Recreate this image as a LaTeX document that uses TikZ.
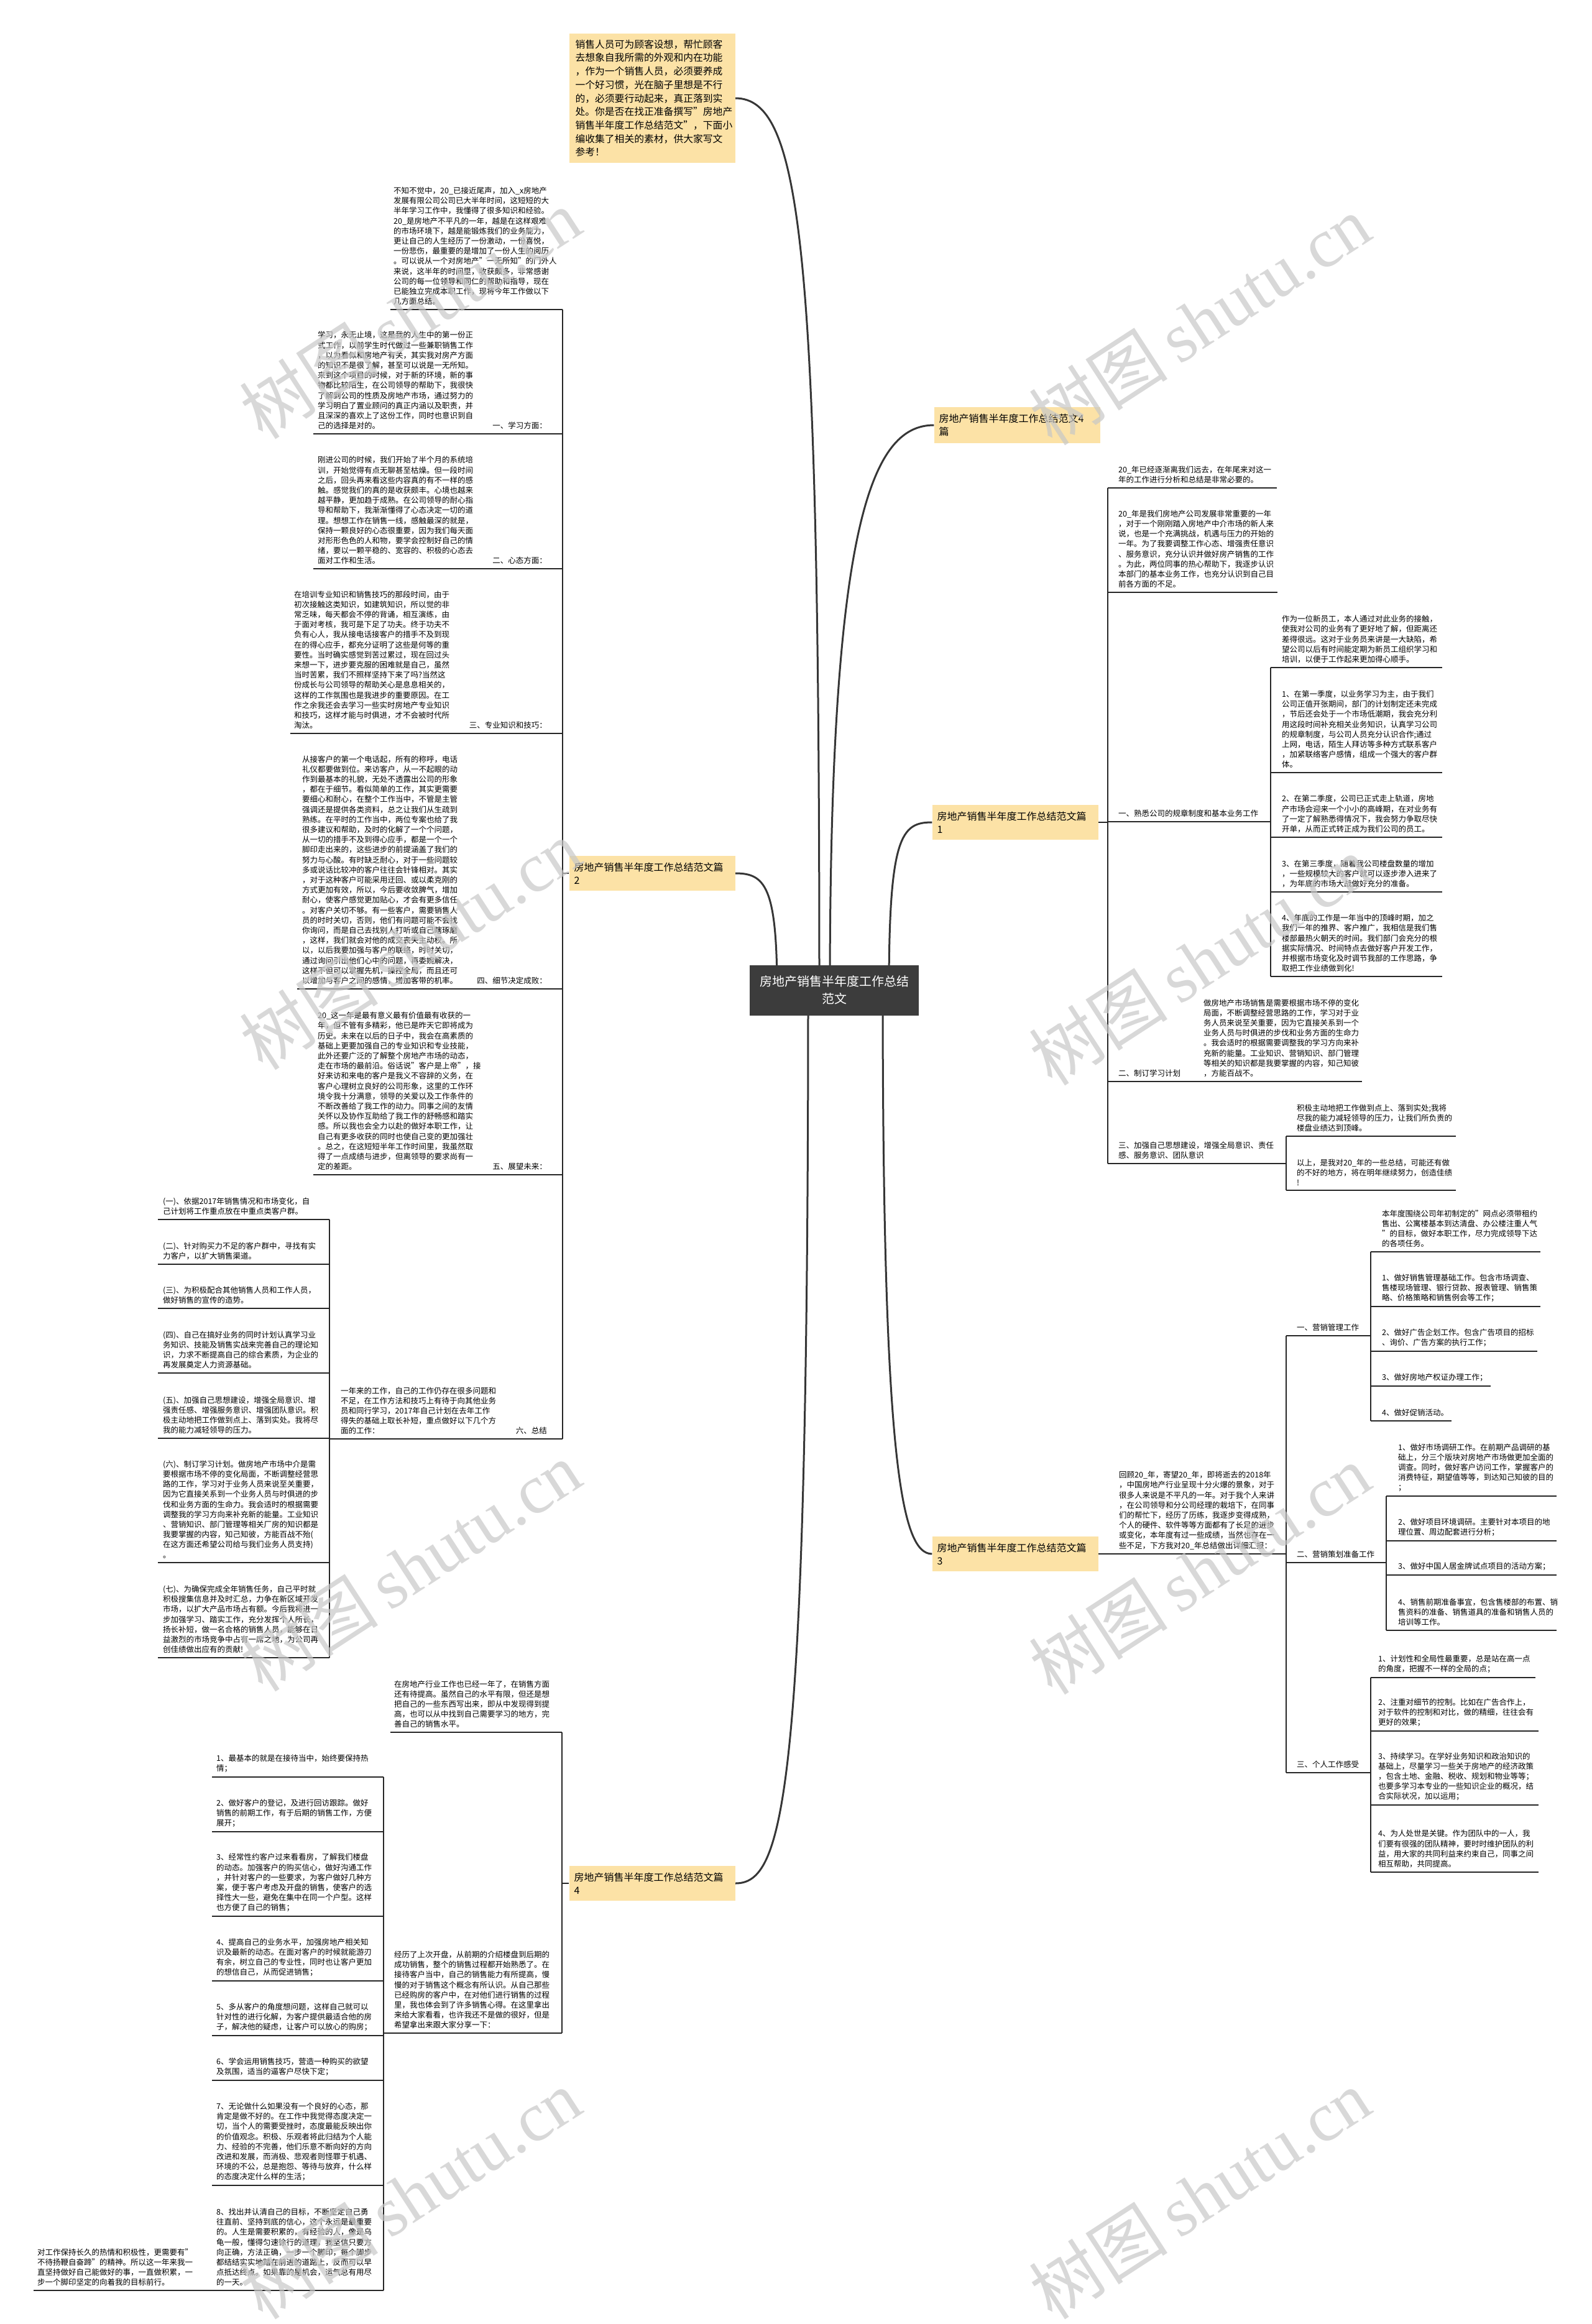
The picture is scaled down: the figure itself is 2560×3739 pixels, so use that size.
\documentclass[tikz,border=0pt]{standalone}
\usepackage{fontspec}
\setmainfont{Noto Sans CJK SC}
\newfontfamily\wmlatin{Liberation Serif}
\usetikzlibrary{calc,positioning,backgrounds}
\definecolor{topicfill}{HTML}{FCE2A6}
\definecolor{rootfill}{HTML}{3C3C3C}
\definecolor{linkgray}{HTML}{363636}
\tikzset{
  body/.style={font=\fontsize{12.5}{16.2}\selectfont,align=left,inner sep=0pt},
  txt/.style={body,anchor=south west},
  lbl/.style={body,anchor=south east},
  topic/.style={fill=topicfill,font=\fontsize{16}{21}\selectfont,align=left,
    text width=251pt,inner xsep=8pt,inner ysep=11pt},
  leadbox/.style={fill=topicfill,font=\fontsize{15.8}{21.7}\selectfont,align=left,
    text width=247pt,inner xsep=10pt,inner ysep=10pt},
  rootbox/.style={fill=rootfill,text=white,font=\fontsize{20}{28}\selectfont,
    align=center,minimum width=272pt,minimum height=81pt},
  uline/.style={line width=2pt,black!85},
  mainlink/.style={line width=3pt,linkgray},
  wmark/.style={font=\fontsize{112}{112}\selectfont,text=black!22,opacity=0.7,rotate=33}
}
\begin{document}
\begin{tikzpicture}[x=1pt,y=-1pt]
\useasboundingbox (0,0) rectangle (2560,3739);

% central topic and the yellow topics round it
\node[rootbox] (root) at (1342,1593) {房地产销售半年度工作总结\\范文};
\node[leadbox] (lead) at (1049,158) {销售人员可为顾客设想，帮忙顾客\\去想象自我所需的外观和内在功能\\，作为一个销售人员，必须要养成\\一个好习惯，光在脑子里想是不行\\的，必须要行动起来，真正落到实\\处。你是否在找正准备撰写"房地产\\销售半年度工作总结范文"，下面小\\编收集了相关的素材，供大家写文\\参考！};
\node[topic] (all4) at (1636,684) {房地产销售半年度工作总结范文4\\篇};
\node[topic] (art1) at (1633,1323) {房地产销售半年度工作总结范文篇\\1};
\node[topic] (art2) at (1049,1405) {房地产销售半年度工作总结范文篇\\2};
\node[topic] (art3) at (1633,2500) {房地产销售半年度工作总结范文篇\\3};
\node[topic] (art4) at (1049,3030) {房地产销售半年度工作总结范文篇\\4};

% curved links, behind the boxes
\begin{scope}[on background layer]
\draw[mainlink] ($(root.center)+(-24,0)$) .. controls (1318,400) and (1290,158) .. (lead.east);
\draw[mainlink] ($(root.center)+(-7,0)$) .. controls (1335,850) and (1400,684) .. (all4.west);
\draw[mainlink] ($(root.center)+(88,0)$) .. controls (1430,1345) and (1450,1323) .. (art1.west);
\draw[mainlink] ($(root.center)+(78,0)$) .. controls (1420,2350) and (1450,2500) .. (art3.west);
\draw[mainlink] ($(root.center)+(-92,0)$) .. controls (1250,1425) and (1230,1405) .. (art2.east);
\draw[mainlink] ($(root.center)+(-42,0)$) .. controls (1300,2900) and (1260,3030) .. (art4.east);
\end{scope}

% article 2 (left, upper)
\coordinate (s2) at (905,0);
\coordinate (u2a) at (628,498);
\node[txt] (p2a) at ($(u2a)+(5,-7)$) {不知不觉中，20\_已接近尾声，加入\_x房地产\\发展有限公司公司已大半年时间，这短短的大\\半年学习工作中，我懂得了很多知识和经验。\\20\_是房地产不平凡的一年，越是在这样艰难\\的市场环境下，越是能锻炼我们的业务能力，\\更让自己的人生经历了一份激动，一份喜悦，\\一份悲伤，最重要的是增加了一份人生的阅历\\。可以说从一个对房地产"一无所知"的门外人\\来说，这半年的时间里，收获颇多，非常感谢\\公司的每一位领导和同仁的帮助和指导，现在\\已能独立完成本职工作，现将今年工作做以下\\几方面总结。};
\draw[uline] (u2a) -- (u2a -| s2);

\coordinate (u2b) at (504,698);
\node[txt] (p2b) at ($(u2b)+(7,-7)$) {学习，永无止境，这是我的人生中的第一份正\\式工作，以前学生时代做过一些兼职销售工作\\，以为看似和房地产有关，其实我对房产方面\\的知识不是很了解，甚至可以说是一无所知。\\来到这个项目的时候，对于新的环境，新的事\\物都比较陌生，在公司领导的帮助下，我很快\\了解到公司的性质及房地产市场，通过努力的\\学习明白了置业顾问的真正内涵以及职责，并\\且深深的喜欢上了这份工作，同时也意识到自\\己的选择是对的。};
\node[lbl] (l2b) at ($(u2b -| s2)+(-25,-7)$) {一、学习方面：};
\draw[uline] (u2b) -- (u2b -| s2);

\coordinate (u2c) at (504,915);
\node[txt] (p2c) at ($(u2c)+(7,-7)$) {刚进公司的时候，我们开始了半个月的系统培\\训，开始觉得有点无聊甚至枯燥。但一段时间\\之后，回头再来看这些内容真的有不一样的感\\触。感觉我们的真的是收获颇丰。心境也越来\\越平静，更加趋于成熟。在公司领导的耐心指\\导和帮助下，我渐渐懂得了心态决定一切的道\\理。想想工作在销售一线，感触最深的就是，\\保持一颗良好的心态很重要，因为我们每天面\\对形形色色的人和物，要学会控制好自己的情\\绪，要以一颗平稳的、宽容的、积极的心态去\\面对工作和生活。};
\node[lbl] (l2c) at ($(u2c -| s2)+(-25,-7)$) {二、心态方面：};
\draw[uline] (u2c) -- (u2c -| s2);

\coordinate (u2d) at (467,1180);
\node[txt] (p2d) at ($(u2d)+(6,-7)$) {在培训专业知识和销售技巧的那段时间，由于\\初次接触这类知识，如建筑知识，所以觉的非\\常乏味，每天都会不停的背诵，相互演练，由\\于面对考核，我可是下足了功夫。终于功夫不\\负有心人，我从接电话接客户的措手不及到现\\在的得心应手，都充分证明了这些是何等的重\\要性。当时确实感觉到苦过累过，现在回过头\\来想一下，进步要克服的困难就是自己，虽然\\当时苦累，我们不照样坚持下来了吗?当然这\\份成长与公司领导的帮助关心是息息相关的，\\这样的工作氛围也是我进步的重要原因。在工\\作之余我还会去学习一些实时房地产专业知识\\和技巧，这样才能与时俱进，才不会被时代所\\淘汰。};
\node[lbl] (l2d) at ($(u2d -| s2)+(-25,-7)$) {三、专业知识和技巧：};
\draw[uline] (u2d) -- (u2d -| s2);

\coordinate (u2e) at (478,1591);
\node[txt] (p2e) at ($(u2e)+(8,-7)$) {从接客户的第一个电话起，所有的称呼，电话\\礼仪都要做到位。来访客户，从一不起眼的动\\作到最基本的礼貌，无处不透露出公司的形象\\，都在于细节。看似简单的工作，其实更需要\\要细心和耐心，在整个工作当中，不管是主管\\强调还是提供各类资料，总之让我们从生疏到\\熟练。在平时的工作当中，两位专案也给了我\\很多建议和帮助，及时的化解了一个个问题，\\从一切的措手不及到得心应手，都是一个一个\\脚印走出来的，这些进步的前提涵盖了我们的\\努力与心酸。有时缺乏耐心，对于一些问题较\\多或说话比较冲的客户往往会针锋相对。其实\\，对于这种客户可能采用迂回、或以柔克刚的\\方式更加有效，所以，今后要收敛脾气，增加\\耐心，使客户感觉更加贴心，才会有更多信任\\。对客户关切不够。有一些客户，需要销售人\\员的时时关切，否则，他们有问题可能不会找\\你询问，而是自己去找别人打听或自己瞎琢磨\\，这样，我们就会对他的成交丧失主动权。所\\以，以后我要加强与客户的联络，时时关切，\\通过询问引出他们心中的问题，再委婉解决，\\这样不但可以掌握先机，操控全局，而且还可\\以增加与客户之间的感情，增加客带的机率。};
\node[lbl] (l2e) at ($(u2e -| s2)+(-25,-7)$) {四、细节决定成败：};
\draw[uline] (u2e) -- (u2e -| s2);

\coordinate (u2f) at (504,1890);
\node[txt] (p2f) at ($(u2f)+(7,-7)$) {20\_这一年是最有意义最有价值最有收获的一\\年，但不管有多精彩，他已是昨天它即将成为\\历史。未来在以后的日子中，我会在高素质的\\基础上更要加强自己的专业知识和专业技能，\\此外还要广泛的了解整个房地产市场的动态，\\走在市场的最前沿。俗话说"客户是上帝"，接\\好来访和来电的客户是我义不容辞的义务，在\\客户心理树立良好的公司形象，这里的工作环\\境令我十分满意，领导的关爱以及工作条件的\\不断改善给了我工作的动力。同事之间的友情\\关怀以及协作互助给了我工作的舒畅感和踏实\\感。所以我也会全力以赴的做好本职工作，让\\自己有更多收获的同时也使自己变的更加强壮\\。总之，在这短短半年工作时间里，我虽然取\\得了一点成绩与进步，但离领导的要求尚有一\\定的差距。};
\node[lbl] (l2f) at ($(u2f -| s2)+(-25,-7)$) {五、展望未来：};
\draw[uline] (u2f) -- (u2f -| s2);

\coordinate (u2g) at (530,2315);
\node[txt] (p2g) at ($(u2g)+(18,-7)$) {一年来的工作，自己的工作仍存在很多问题和\\不足，在工作方法和技巧上有待于向其他业务\\员和同行学习，2017年自己计划在去年工作\\得失的基础上取长补短，重点做好以下几个方\\面的工作：};
\node[lbl] (l2g) at ($(u2g -| s2)+(-25,-7)$) {六、总结};
\draw[uline] (u2g) -- (u2g -| s2);
\draw[uline] (u2a -| s2) -- (u2g -| s2);
\draw[uline] (art2.west) -- (art2.west -| s2);

% the seven points under 六
\coordinate (s2g) at (530,0);
\coordinate (u2g1) at (254,1962);
\coordinate (u2g2) at (254,2034);
\coordinate (u2g3) at (254,2105);
\coordinate (u2g4) at (254,2209);
\coordinate (u2g5) at (254,2314);
\coordinate (u2g6) at (254,2514);
\coordinate (u2g7) at (254,2667);
\node[txt] (p2g1) at ($(u2g1)+(8,-7)$) {(一)、依据2017年销售情况和市场变化，自\\己计划将工作重点放在中重点类客户群。};
\node[txt] (p2g2) at ($(u2g2)+(8,-7)$) {(二)、针对购买力不足的客户群中，寻找有实\\力客户，以扩大销售渠道。};
\node[txt] (p2g3) at ($(u2g3)+(8,-7)$) {(三)、为积极配合其他销售人员和工作人员，\\做好销售的宣传的造势。};
\node[txt] (p2g4) at ($(u2g4)+(8,-7)$) {(四)、自己在搞好业务的同时计划认真学习业\\务知识、技能及销售实战来完善自己的理论知\\识，力求不断提高自己的综合素质，为企业的\\再发展奠定人力资源基础。};
\node[txt] (p2g5) at ($(u2g5)+(8,-7)$) {(五)、加强自己思想建设，增强全局意识、增\\强责任感、增强服务意识、增强团队意识。积\\极主动地把工作做到点上、落到实处。我将尽\\我的能力减轻领导的压力。};
\node[txt] (p2g6) at ($(u2g6)+(8,-7)$) {(六)、制订学习计划。做房地产市场中介是需\\要根据市场不停的变化局面，不断调整经营思\\路的工作，学习对于业务人员来说至关重要，\\因为它直接关系到一个业务人员与时俱进的步\\伐和业务方面的生命力。我会适时的根据需要\\调整我的学习方向来补充新的能量。工业知识\\、营销知识、部门管理等相关厂房的知识都是\\我要掌握的内容，知己知彼，方能百战不殆(\\在这方面还希望公司给与我们业务人员支持)\\。};
\node[txt] (p2g7) at ($(u2g7)+(8,-7)$) {(七)、为确保完成全年销售任务，自己平时就\\积极搜集信息并及时汇总，力争在新区域开发\\市场，以扩大产品市场占有额。今后我将进一\\步加强学习、踏实工作，充分发挥个人所长，\\扬长补短，做一名合格的销售人员，能够在日\\益激烈的市场竞争中占有一席之地，为公司再\\创佳绩做出应有的贡献!};
\draw[uline] (u2g1) -- (u2g1 -| s2g);
\draw[uline] (u2g2) -- (u2g2 -| s2g);
\draw[uline] (u2g3) -- (u2g3 -| s2g);
\draw[uline] (u2g4) -- (u2g4 -| s2g);
\draw[uline] (u2g5) -- (u2g5 -| s2g);
\draw[uline] (u2g6) -- (u2g6 -| s2g);
\draw[uline] (u2g7) -- (u2g7 -| s2g);
\draw[uline] (u2g1 -| s2g) -- (u2g7 -| s2g);

% article 4 (left, lower)
\coordinate (s4) at (904,0);
\coordinate (u4a) at (628,2787);
\node[txt] (p4a) at ($(u4a)+(6,-7)$) {在房地产行业工作也已经一年了，在销售方面\\还有待提高。虽然自己的水平有限，但还是想\\把自己的一些东西写出来，即从中发现得到提\\高，也可以从中找到自己需要学习的地方，完\\善自己的销售水平。};
\draw[uline] (u4a) -- (u4a -| s4);
\coordinate (u4b) at (617,3271);
\node[txt] (p4b) at ($(u4b)+(17,-7)$) {经历了上次开盘，从前期的介绍楼盘到后期的\\成功销售，整个的销售过程都开始熟悉了。在\\接待客户当中，自己的销售能力有所提高，慢\\慢的对于销售这个概念有所认识。从自己那些\\已经购房的客户中，在对他们进行销售的过程\\里，我也体会到了许多销售心得。在这里拿出\\来给大家看看，也许我还不是做的很好，但是\\希望拿出来跟大家分享一下：};
\draw[uline] (u4b) -- (u4b -| s4);
\draw[uline] (u4a -| s4) -- (u4b -| s4);
\draw[uline] (art4.west) -- (art4.west -| s4);

% the eight points of article 4
\coordinate (s4b) at (617,0);
\coordinate (u4b1) at (341,2859);
\coordinate (u4b2) at (341,2947);
\coordinate (u4b3) at (341,3083);
\coordinate (u4b4) at (341,3187);
\coordinate (u4b5) at (341,3275);
\coordinate (u4b6) at (341,3347);
\coordinate (u4b7) at (341,3516);
\coordinate (u4b8) at (341,3685);
\node[txt] (p4b1) at ($(u4b1)+(7,-7)$) {1、最基本的就是在接待当中，始终要保持热\\情；};
\node[txt] (p4b2) at ($(u4b2)+(7,-7)$) {2、做好客户的登记，及进行回访跟踪。做好\\销售的前期工作，有于后期的销售工作，方便\\展开；};
\node[txt] (p4b3) at ($(u4b3)+(7,-7)$) {3、经常性约客户过来看看房，了解我们楼盘\\的动态。加强客户的购买信心，做好沟通工作\\，并针对客户的一些要求，为客户做好几种方\\案，便于客户考虑及开盘的销售，使客户的选\\择性大一些，避免在集中在同一个户型。这样\\也方便了自己的销售；};
\node[txt] (p4b4) at ($(u4b4)+(7,-7)$) {4、提高自己的业务水平，加强房地产相关知\\识及最新的动态。在面对客户的时候就能游刃\\有余，树立自己的专业性，同时也让客户更加\\的想信自己，从而促进销售；};
\node[txt] (p4b5) at ($(u4b5)+(7,-7)$) {5、多从客户的角度想问题，这样自己就可以\\针对性的进行化解，为客户提供最适合他的房\\子，解决他的疑虑，让客户可以放心的购房；};
\node[txt] (p4b6) at ($(u4b6)+(7,-7)$) {6、学会运用销售技巧，营造一种购买的欲望\\及氛围，适当的逼客户尽快下定；};
\node[txt] (p4b7) at ($(u4b7)+(7,-7)$) {7、无论做什么如果没有一个良好的心态，那\\肯定是做不好的。在工作中我觉得态度决定一\\切，当个人的需要受挫时，态度最能反映出你\\的价值观念。积极、乐观者将此归结为个人能\\力、经验的不完善，他们乐意不断向好的方向\\改进和发展，而消极、悲观者则怪罪于机遇、\\环境的不公，总是抱怨、等待与放弃，什么样\\的态度决定什么样的生活；};
\node[txt] (p4b8) at ($(u4b8)+(7,-7)$) {8、找出并认清自己的目标，不断坚定自己勇\\往直前、坚持到底的信心，这个永远是最重要\\的。人生是需要积累的，有经验的人，像是乌\\龟一般，懂得匀速徐行的道理，我坚信只要方\\向正确，方法正确，一步一个脚印，每个脚步\\都结结实实地踏在前进的道路上，反而可以早\\点抵达终点。如果靠的是机会，运气总有用尽\\的一天。};
\draw[uline] (u4b1) -- (u4b1 -| s4b);
\draw[uline] (u4b2) -- (u4b2 -| s4b);
\draw[uline] (u4b3) -- (u4b3 -| s4b);
\draw[uline] (u4b4) -- (u4b4 -| s4b);
\draw[uline] (u4b5) -- (u4b5 -| s4b);
\draw[uline] (u4b6) -- (u4b6 -| s4b);
\draw[uline] (u4b7) -- (u4b7 -| s4b);
\draw[uline] (u4b8) -- (u4b8 -| s4b);
\draw[uline] (u4b1 -| s4b) -- (u4b8 -| s4b);
\coordinate (u4c) at (54,3685);
\node[txt] (p4c) at ($(u4c)+(6,-7)$) {对工作保持长久的热情和积极性，更需要有"\\不待扬鞭自奋蹄"的精神。所以这一年来我一\\直坚持做好自己能做好的事，一直做积累，一\\步一个脚印坚定的向着我的目标前行。};
\draw[uline] (u4c) -- (u4b8);

% article 1 (right, upper)
\coordinate (s1) at (1782,0);
\coordinate (u1a) at (1782,785);
\node[txt] (p1a) at ($(u1a)+(17,-7)$) {20\_年已经逐渐离我们远去，在年尾来对这一\\年的工作进行分析和总结是非常必要的。};
\draw[uline] (u1a) -- ($(p1a.south east)+(9,7)$);
\coordinate (u1b) at (1782,953);
\node[txt] (p1b) at ($(u1b)+(17,-7)$) {20\_年是我们房地产公司发展非常重要的一年\\，对于一个刚刚踏入房地产中介市场的新人来\\说，也是一个充满挑战，机遇与压力的开始的\\一年。为了我要调整工作心态、增强责任意识\\、服务意识，充分认识并做好房产销售的工作\\。为此，两位同事的热心帮助下，我逐步认识\\本部门的基本业务工作，也充分认识到自己目\\前各方面的不足。};
\draw[uline] (u1b) -- ($(p1b.south east)+(6,7)$);
\coordinate (u1c) at (1782,1322);
\coordinate (s1c) at (2044,0);
\node[txt] (l1c) at ($(u1c)+(17,-7)$) {一、熟悉公司的规章制度和基本业务工作};
\draw[uline] (u1c) -- (u1c -| s1c);
\coordinate (u1d) at (1782,1740);
\node[txt] (l1d) at ($(u1d)+(17,-7)$) {二、制订学习计划};
\node[txt] (p1d) at (1936,1733) {做房地产市场销售是需要根据市场不停的变化\\局面，不断调整经营思路的工作，学习对于业\\务人员来说至关重要，因为它直接关系到一个\\业务人员与时俱进的步伐和业务方面的生命力\\。我会适时的根据需要调整我的学习方向来补\\充新的能量。工业知识、营销知识、部门管理\\等相关的知识都是我要掌握的内容，知己知彼\\，方能百战不。};
\draw[uline] (u1d) -- ($(p1d.south east)+(5,7)$);
\coordinate (u1e) at (1782,1872);
\coordinate (s1e) at (2069,0);
\node[txt] (l1e) at ($(u1e)+(17,-7)$) {三、加强自己思想建设，增强全局意识、责任\\感、服务意识、团队意识};
\draw[uline] (u1e) -- (u1e -| s1e);
\draw[uline] (u1a) -- (u1e);
\draw[uline] (art1.east) -- (art1.east -| s1);

% four quarters under 一
\coordinate (u1c1) at (2044,1074);
\coordinate (u1c2) at (2044,1243);
\coordinate (u1c3) at (2044,1347);
\coordinate (u1c4) at (2044,1435);
\coordinate (u1c5) at (2044,1571);
\node[txt] (p1c1) at ($(u1c1)+(18,-7)$) {作为一位新员工，本人通过对此业务的接触，\\使我对公司的业务有了更好地了解，但距离还\\差得很远。这对于业务员来讲是一大缺陷，希\\望公司以后有时间能定期为新员工组织学习和\\培训，以便于工作起来更加得心顺手。};
\node[txt] (p1c2) at ($(u1c2)+(18,-7)$) {1、在第一季度，以业务学习为主，由于我们\\公司正值开张期间，部门的计划制定还未完成\\，节后还会处于一个市场低潮期，我会充分利\\用这段时间补充相关业务知识，认真学习公司\\的规章制度，与公司人员充分认识合作;通过\\上网，电话，陌生人拜访等多种方式联系客户\\，加紧联络客户感情，组成一个强大的客户群\\体。};
\node[txt] (p1c3) at ($(u1c3)+(18,-7)$) {2、在第二季度，公司已正式走上轨道，房地\\产市场会迎来一个小小的高峰期，在对业务有\\了一定了解熟悉得情况下，我会努力争取尽快\\开单，从而正式转正成为我们公司的员工。};
\node[txt] (p1c4) at ($(u1c4)+(18,-7)$) {3、在第三季度，随着我公司楼盘数量的增加\\，一些规模较大的客户就可以逐步渗入进来了\\，为年底的市场大战做好充分的准备。};
\node[txt] (p1c5) at ($(u1c5)+(18,-7)$) {4、年底的工作是一年当中的顶峰时期，加之\\我们一年的推界、客户推广，我相信是我们售\\楼部最热火朝天的时间。我们部门会充分的根\\据实际情况、时间特点去做好客户开发工作，\\并根据市场变化及时调节我部的工作思路，争\\取把工作业绩做到化!};
\draw[uline] (u1c1) -- (u1c1 -| p1c2.east) -- ++(8,0);
\draw[uline] (u1c2) -- ($(p1c2.south east)+(8,7)$);
\draw[uline] (u1c3) -- (u1c3 -| p1c2.east) -- ++(8,0);
\draw[uline] (u1c4) -- (u1c4 -| p1c2.east) -- ++(8,0);
\draw[uline] (u1c5) -- (u1c5 -| p1c2.east) -- ++(8,0);
\draw[uline] (u1c1) -- (u1c5);

% two points under 三
\coordinate (u1e1) at (2069,1828);
\coordinate (u1e2) at (2069,1915);
\node[txt] (p1e1) at ($(u1e1)+(17,-7)$) {积极主动地把工作做到点上、落到实处;我将\\尽我的能力减轻领导的压力，让我们所负责的\\楼盘业绩达到顶峰。};
\node[txt] (p1e2) at ($(u1e2)+(17,-7)$) {以上，是我对20\_年的一些总结，可能还有做\\的不好的地方，将在明年继续努力，创造佳绩\\!};
\draw[uline] (u1e1) -- ($(p1e1.south east)+(6,7)$);
\draw[uline] (u1e2) -- (u1e2 -| p1e1.east) -- ++(6,0);
\draw[uline] (u1e1) -- (u1e2);

% article 3 (right, lower)
\coordinate (s3) at (2069,0);
\node[txt] (p3a) at (1800,2493) {回顾20\_年，寄望20\_年，即将逝去的2018年\\，中国房地产行业呈现十分火爆的景象，对于\\很多人来说是不平凡的一年。对于我个人来讲\\，在公司领导和分公司经理的栽培下，在同事\\们的帮忙下，经历了历练，我逐步变得成熟，\\个人的硬件、软件等等方面都有了长足的进步\\或变化，本年度有过一些成绩，当然也存在一\\些不足，下方我对20\_年总结做出详细汇报：};
\draw[uline] (art3.east) -- (art3.east -| s3);
\coordinate (u3b) at (2069,2149);
\coordinate (u3c) at (2069,2514);
\coordinate (u3d) at (2069,2852);
\coordinate (s3b) at (2205,0);
\coordinate (s3c) at (2230,0);
\coordinate (s3d) at (2205,0);
\node[txt] (l3b) at ($(u3b)+(17,-7)$) {一、营销管理工作};
\node[txt] (l3c) at ($(u3c)+(17,-7)$) {二、营销策划准备工作};
\node[txt] (l3d) at ($(u3d)+(17,-7)$) {三、个人工作感受};
\draw[uline] (u3b) -- (u3b -| s3b);
\draw[uline] (u3c) -- (u3c -| s3c);
\draw[uline] (u3d) -- (u3d -| s3d);
\draw[uline] (u3b) -- (u3d);

% marketing management
\coordinate (u3b1) at (2205,2014);
\coordinate (u3b2) at (2205,2102);
\coordinate (u3b3) at (2205,2174);
\coordinate (u3b4) at (2205,2230);
\coordinate (u3b5) at (2205,2286);
\node[txt] (p3b1) at ($(u3b1)+(18,-7)$) {本年度围绕公司年初制定的"网点必须带租约\\售出、公寓楼基本到达清盘、办公楼注重人气\\"的目标，做好本职工作，尽力完成领导下达\\的各项任务。};
\node[txt] (p3b2) at ($(u3b2)+(18,-7)$) {1、做好销售管理基础工作。包含市场调查、\\售楼现场管理、银行贷款、报表管理、销售策\\略、价格策略和销售例会等工作；};
\node[txt] (p3b3) at ($(u3b3)+(18,-7)$) {2、做好广告企划工作。包含广告项目的招标\\、询价、广告方案的执行工作；};
\node[txt] (p3b4) at ($(u3b4)+(18,-7)$) {3、做好房地产权证办理工作；};
\node[txt] (p3b5) at ($(u3b5)+(18,-7)$) {4、做好促销活动。};
\draw[uline] (u3b1) -- ($(p3b1.south east)+(5,7)$);
\draw[uline] (u3b2) -- ($(p3b2.south east)+(5,7)$);
\draw[uline] (u3b3) -- ($(p3b3.south east)+(5,7)$);
\draw[uline] (u3b4) -- ($(p3b4.south east)+(5,7)$);
\draw[uline] (u3b5) -- ($(p3b5.south east)+(5,7)$);
\draw[uline] (u3b1) -- (u3b5);

% marketing preparation
\coordinate (u3c1) at (2230,2407);
\coordinate (u3c2) at (2230,2479);
\coordinate (u3c3) at (2230,2534);
\coordinate (u3c4) at (2230,2623);
\node[txt] (p3c1) at ($(u3c1)+(19,-7)$) {1、做好市场调研工作。在前期产品调研的基\\础上，分三个版块对房地产市场做更加全面的\\调查。同时，做好客户访问工作，掌握客户的\\消费特征，期望值等等，到达知己知彼的目的\\；};
\node[txt] (p3c2) at ($(u3c2)+(19,-7)$) {2、做好项目环境调研。主要针对本项目的地\\理位置、周边配套进行分析；};
\node[txt] (p3c3) at ($(u3c3)+(19,-7)$) {3、做好中国人居金牌试点项目的活动方案；};
\node[txt] (p3c4) at ($(u3c4)+(19,-7)$) {4、销售前期准备事宜，包含售楼部的布置、销\\售资料的准备、销售道具的准备和销售人员的\\培训等工作。};
\draw[uline] (u3c1) -- ($(p3c1.south east)+(5,7)$);
\draw[uline] (u3c2) -- (u3c2 -| p3c1.east) -- ++(5,0);
\draw[uline] (u3c3) -- (u3c3 -| p3c1.east) -- ++(5,0);
\draw[uline] (u3c4) -- (u3c4 -| p3c1.east) -- ++(5,0);
\draw[uline] (u3c1) -- (u3c4);

% personal feelings
\coordinate (u3d1) at (2205,2699);
\coordinate (u3d2) at (2205,2785);
\coordinate (u3d3) at (2205,2904);
\coordinate (u3d4) at (2205,3012);
\node[txt] (p3d1) at ($(u3d1)+(12,-7)$) {1、计划性和全局性最重要，总是站在高一点\\的角度，把握不一样的全局的点；};
\node[txt] (p3d2) at ($(u3d2)+(12,-7)$) {2、注重对细节的控制。比如在广告合作上，\\对于软件的控制和对比，做的精细，往往会有\\更好的效果；};
\node[txt] (p3d3) at ($(u3d3)+(12,-7)$) {3、持续学习。在学好业务知识和政治知识的\\基础上，尽量学习一些关于房地产的经济政策\\，包含土地、金融、税收、规划和物业等等；\\也要多学习本专业的一些知识企业的概况，结\\合实际状况，加以运用；};
\node[txt] (p3d4) at ($(u3d4)+(12,-7)$) {4、为人处世是关键。作为团队中的一人，我\\们要有很强的团队精神，要时时维护团队的利\\益，用大家的共同利益来约束自己，同事之间\\相互帮助，共同提高。};
\draw[uline] (u3d1) -- ($(p3d1.south east)+(8,7)$);
\draw[uline] (u3d2) -- ($(p3d2.south east)+(8,7)$);
\draw[uline] (u3d3) -- ($(p3d3.south east)+(8,7)$);
\draw[uline] (u3d4) -- ($(p3d4.south east)+(8,7)$);
\draw[uline] (u3d1) -- (u3d4);

% watermarks
\node[wmark] (wm1) at (660,505) {树图\,{\wmlatin shutu.cn}};
\node[wmark] (wm2) at (1930,515) {树图\,{\wmlatin shutu.cn}};
\node[wmark] (wm3) at (660,1520) {树图\,{\wmlatin shutu.cn}};
\node[wmark] (wm4) at (1930,1545) {树图\,{\wmlatin shutu.cn}};
\node[wmark] (wm5) at (660,2520) {树图\,{\wmlatin shutu.cn}};
\node[wmark] (wm6) at (1930,2525) {树图\,{\wmlatin shutu.cn}};
\node[wmark] (wm7) at (660,3530) {树图\,{\wmlatin shutu.cn}};
\node[wmark] (wm8) at (1930,3530) {树图\,{\wmlatin shutu.cn}};
\end{tikzpicture}
\end{document}
